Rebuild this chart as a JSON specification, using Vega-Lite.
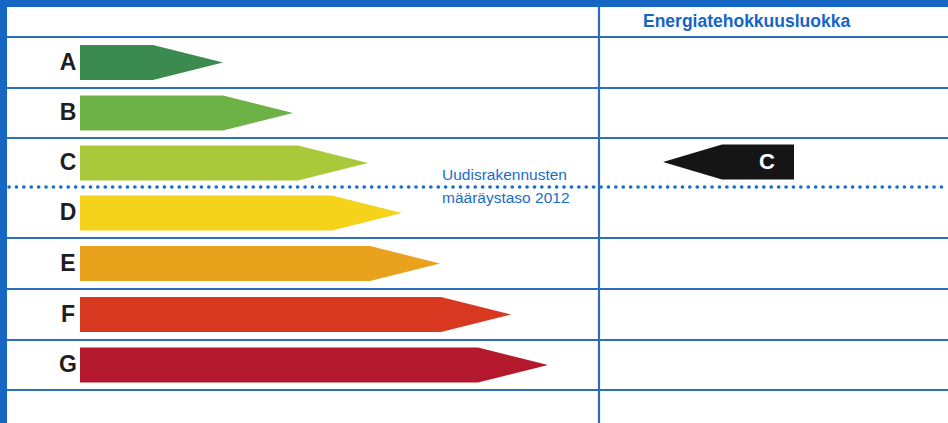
{
  "$schema": "https://vega.github.io/schema/vega-lite/v6.json",
  "width": 948,
  "height": 423,
  "autosize": {"type": "none"},
  "padding": 0,
  "background": "#ffffff",
  "config": {"view": {"stroke": null}, "scale": {"continuousPadding": 0}},
  "datasets": {
    "bands": [
      {"x": 0, "x2": 948, "y": 0, "y2": 7},
      {"x": 0, "x2": 7, "y": 0, "y2": 423}
    ],
    "hlines": [{"y": 37, "x": 7, "x2": 948}, {"y": 88, "x": 7, "x2": 948}, {"y": 138, "x": 7, "x2": 948}, {"y": 238, "x": 7, "x2": 948}, {"y": 289, "x": 7, "x2": 948}, {"y": 340, "x": 7, "x2": 948}, {"y": 390, "x": 7, "x2": 948}],
    "vlines": [{"x": 599, "y": 7, "y2": 423}],
    "dotted": [{"y": 187, "x": 9, "x2": 948}],
    "classes": [
      {"cls": "A", "row": 62.5, "start": 80, "end": 153, "color": "#3b8a50"},
      {"cls": "B", "row": 113, "start": 80, "end": 223, "color": "#6cb246"},
      {"cls": "C", "row": 163, "start": 80, "end": 298, "color": "#a9c83a"},
      {"cls": "D", "row": 213, "start": 80, "end": 332, "color": "#f4d31a"},
      {"cls": "E", "row": 263.5, "start": 80, "end": 370, "color": "#e8a21c"},
      {"cls": "F", "row": 314.5, "start": 80, "end": 441, "color": "#d7381f"},
      {"cls": "G", "row": 365, "start": 80, "end": 478, "color": "#b4182d"}
    ],
    "rating": [{"cls": "C", "row": 162, "start": 722, "end": 794}],
    "header": [{"label": "Energiatehokkuusluokka", "x": 643, "y": 22}],
    "note": [
      {"label": "Uudisrakennusten", "x": 442, "y": 175},
      {"label": "määräystaso 2012", "x": 442, "y": 198}
    ]
  },
  "layer": [
    {
      "data": {"name": "bands"},
      "mark": {"type": "rect", "color": "#1667c4"},
      "encoding": {
        "x": {"field": "x", "type": "quantitative", "scale": {"domain": [0, 948], "nice": false, "zero": false, "padding": 0}, "axis": null},
        "x2": {"field": "x2"},
        "y": {"field": "y", "type": "quantitative", "scale": {"domain": [0, 423], "reverse": true, "nice": false, "zero": false, "padding": 0}, "axis": null},
        "y2": {"field": "y2"}
      }
    },
    {
      "data": {"name": "hlines"},
      "mark": {"type": "rule", "color": "#2a6fbc", "strokeWidth": 2.2},
      "encoding": {
        "y": {"field": "y", "type": "quantitative"},
        "x": {"field": "x", "type": "quantitative"},
        "x2": {"field": "x2"}
      }
    },
    {
      "data": {"name": "vlines"},
      "mark": {"type": "rule", "color": "#2a6fbc", "strokeWidth": 2.2},
      "encoding": {
        "x": {"field": "x", "type": "quantitative"},
        "y": {"field": "y", "type": "quantitative"},
        "y2": {"field": "y2"}
      }
    },
    {
      "data": {"name": "dotted"},
      "mark": {"type": "rule", "color": "#1a6cc8", "strokeWidth": 3.6, "strokeDash": [0.1, 7.3], "strokeCap": "round"},
      "encoding": {
        "y": {"field": "y", "type": "quantitative"},
        "x": {"field": "x", "type": "quantitative"},
        "x2": {"field": "x2"}
      }
    },
    {
      "data": {"name": "classes"},
      "mark": {"type": "bar", "orient": "horizontal", "size": 35},
      "encoding": {
        "x": {"field": "start", "type": "quantitative"},
        "x2": {"field": "end"},
        "y": {"field": "row", "type": "quantitative"},
        "color": {"field": "color", "type": "nominal", "scale": null}
      }
    },
    {
      "data": {"name": "classes"},
      "mark": {"type": "point", "filled": true, "opacity": 1, "strokeWidth": 0, "shape": "M-1,-0.5L1,0L-1,0.5Z", "size": 4900, "xOffset": 35},
      "encoding": {
        "x": {"field": "end", "type": "quantitative"},
        "y": {"field": "row", "type": "quantitative"},
        "color": {"field": "color", "type": "nominal", "scale": null}
      }
    },
    {
      "data": {"name": "classes"},
      "mark": {"type": "text", "font": "Liberation Sans", "fontWeight": "bold", "fontSize": 23, "color": "#1e1e1e", "align": "center", "baseline": "middle", "xOffset": -12},
      "encoding": {
        "x": {"field": "start", "type": "quantitative"},
        "y": {"field": "row", "type": "quantitative"},
        "text": {"field": "cls"}
      }
    },
    {
      "data": {"name": "rating"},
      "mark": {"type": "bar", "orient": "horizontal", "size": 35, "color": "#151515"},
      "encoding": {
        "x": {"field": "start", "type": "quantitative"},
        "x2": {"field": "end"},
        "y": {"field": "row", "type": "quantitative"}
      }
    },
    {
      "data": {"name": "rating"},
      "mark": {"type": "point", "filled": true, "opacity": 1, "strokeWidth": 0, "color": "#151515", "shape": "M1,-0.593L-1,0L1,0.593Z", "size": 3481, "xOffset": -29.5},
      "encoding": {
        "x": {"field": "start", "type": "quantitative"},
        "y": {"field": "row", "type": "quantitative"}
      }
    },
    {
      "data": {"name": "rating"},
      "mark": {"type": "text", "font": "Liberation Sans", "fontWeight": "bold", "fontSize": 22, "color": "#ffffff", "align": "center", "baseline": "middle", "xOffset": -27},
      "encoding": {
        "x": {"field": "end", "type": "quantitative"},
        "y": {"field": "row", "type": "quantitative"},
        "text": {"field": "cls"}
      }
    },
    {
      "data": {"name": "header"},
      "mark": {"type": "text", "font": "Liberation Sans", "fontWeight": "bold", "fontSize": 17.5, "color": "#1565c8", "align": "left", "baseline": "middle"},
      "encoding": {
        "x": {"field": "x", "type": "quantitative"},
        "y": {"field": "y", "type": "quantitative"},
        "text": {"field": "label"}
      }
    },
    {
      "data": {"name": "note"},
      "mark": {"type": "text", "font": "Liberation Sans", "fontSize": 15.5, "color": "#1a6cc8", "align": "left", "baseline": "middle"},
      "encoding": {
        "x": {"field": "x", "type": "quantitative"},
        "y": {"field": "y", "type": "quantitative"},
        "text": {"field": "label"}
      }
    }
  ]
}
